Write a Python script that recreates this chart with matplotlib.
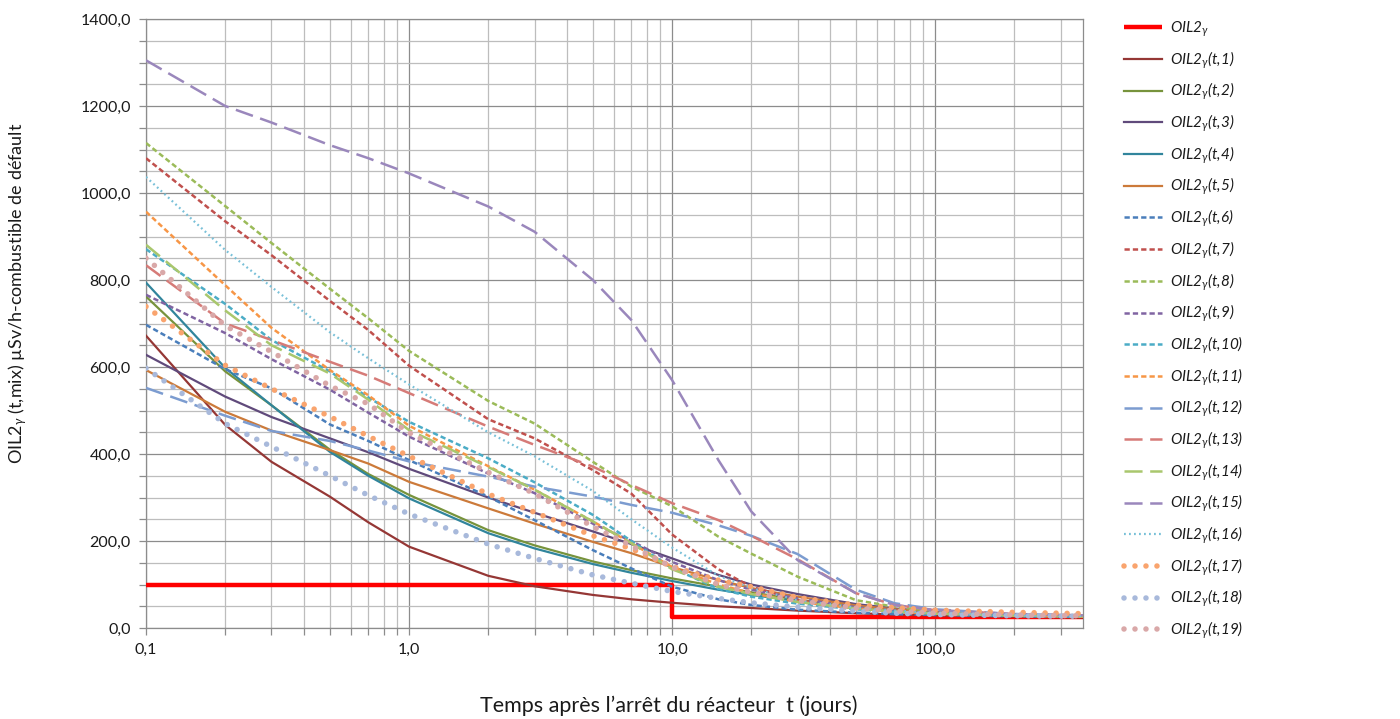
import matplotlib
matplotlib.use("Agg")
import matplotlib.pyplot as plt
from matplotlib.ticker import FixedLocator, FuncFormatter, NullFormatter

plt.rcParams['font.family'] = ['Lato', 'DejaVu Sans']
plt.rcParams['mathtext.fontset'] = 'custom'
plt.rcParams['mathtext.rm'] = 'Lato'
plt.rcParams['mathtext.it'] = 'Lato:italic'
plt.rcParams['mathtext.bf'] = 'Lato:bold'
plt.rcParams['mathtext.fallback'] = 'stixsans'
plt.rcParams['lines.scale_dashes'] = False

# ---------------- data ----------------
t_days = [0.1, 0.2, 0.3, 0.5, 0.7, 1, 2, 3, 5, 7, 10, 15, 20, 30, 50, 70, 100, 200, 365]

oil_t = [0.1, 10, 10, 365]
oil_v = [100, 100, 25, 25]

s1 = [672, 467, 382, 302, 243, 187, 120, 96, 76, 66, 58, 50, 46, 40, 34, 31, 29, 26, 24]
s2 = [762, 590, 512, 410, 354, 306, 225, 190, 153, 133, 114, 95, 82, 65, 48, 40, 34, 29, 27]
s3 = [628, 532, 485, 436, 404, 366, 300, 265, 222, 193, 160, 122, 100, 78, 55, 45, 37, 30, 27]
s4 = [794, 598, 512, 405, 350, 298, 218, 183, 147, 127, 108, 88, 76, 62, 46, 39, 33, 28, 26]
s5 = [593, 497, 454, 409, 378, 336, 275, 240, 198, 172, 140, 110, 92, 72, 52, 43, 36, 30, 27]
s6 = [697, 595, 551, 468, 430, 386, 302, 248, 179, 137, 95, 66, 53, 42, 35, 32, 30, 27, 26]
s7 = [1080, 935, 857, 752, 685, 603, 480, 436, 363, 309, 215, 135, 95, 64, 45, 38, 34, 29, 27]
s8 = [1115, 970, 885, 780, 712, 637, 522, 470, 382, 325, 280, 210, 171, 118, 64, 49, 38, 30, 28]
s9 = [766, 678, 618, 548, 495, 440, 355, 310, 240, 200, 152, 110, 88, 68, 48, 40, 34, 29, 27]
s10 = [871, 745, 662, 590, 530, 474, 390, 335, 260, 200, 138, 90, 72, 56, 43, 37, 33, 28, 26]
s11 = [957, 788, 690, 593, 535, 465, 372, 318, 245, 195, 140, 100, 80, 60, 45, 38, 33, 28, 26]
s12 = [552, 488, 453, 430, 408, 383, 348, 325, 302, 283, 265, 236, 212, 170, 88, 57, 43, 32, 29]
s13 = [834, 700, 662, 612, 580, 540, 463, 421, 371, 329, 287, 248, 212, 158, 80, 53, 41, 32, 29]
s14 = [881, 730, 650, 585, 525, 455, 370, 318, 245, 195, 135, 95, 78, 60, 45, 38, 33, 29, 27]
s15 = [1305, 1200, 1162, 1110, 1080, 1045, 969, 911, 800, 708, 570, 386, 268, 156, 80, 53, 41, 32, 29]
s16 = [1037, 869, 784, 680, 620, 560, 450, 395, 315, 250, 185, 120, 92, 64, 47, 40, 35, 29, 27]
s17 = [739, 604, 550, 486, 441, 395, 308, 266, 212, 182, 141, 110, 95, 70, 53, 47, 41, 36, 33]
s18 = [597, 470, 417, 350, 305, 262, 193, 160, 122, 103, 84, 68, 58, 48, 39, 34, 31, 28, 27]
s19 = [850, 695, 635, 557, 515, 449, 358, 309, 233, 189, 140, 100, 82, 63, 46, 39, 34, 30, 28]

series = [s1, s2, s3, s4, s5, s6, s7, s8, s9, s10, s11, s12, s13, s14, s15, s16, s17, s18, s19]

x_ticks = [0.1, 1, 10, 100]
x_ticklabels = ["0,1", "1,0", "10,0", "100,0"]

# ---------------- styles ----------------
colors = ['#953735', '#77933C', '#604A7B', '#31859C', '#CC7A3A',
          '#4A7EBB', '#C0504D', '#9BBB59', '#8064A2', '#4BACC6', '#F79646',
          '#7C9CD0', '#D67B78', '#A9C76D', '#9A87BC',
          '#78C0D8', '#F9A46E', '#A8B9DB', '#D9A8A8']
SOLID = dict(ls='-', lw=1.6)
SDASH = dict(ls=(0, (3.8, 2.2)), lw=1.8)
LDASH = dict(ls=(0, (13, 5.5)), lw=1.8)
SDOT = dict(ls=(0, (1.3, 2.3)), lw=1.6)
BDOT = dict(ls=(0, (0.01, 7.9)), lw=4.0, dash_capstyle='round')
styles = [SOLID] * 5 + [SDASH] * 6 + [LDASH] * 4 + [SDOT] + [BDOT] * 3

fig = plt.figure(figsize=(14, 7.19), dpi=100)
ax = fig.add_axes([146 / 1400, 1 - 628 / 719, (1083 - 146) / 1400, (628 - 19) / 719])

ax.set_xscale('log')
ax.set_xlim(0.1, 365)
ax.set_ylim(0, 1400)

# grid
ax.set_yticks(range(0, 1401, 200))
ax.yaxis.set_minor_locator(FixedLocator([v for v in range(0, 1401, 50) if v % 200]))
ax.xaxis.set_major_locator(FixedLocator(x_ticks))
minors = [m * d for d in (0.1, 1, 10, 100) for m in range(2, 10) if m * d <= 365]
ax.xaxis.set_minor_locator(FixedLocator(minors))
ax.xaxis.set_minor_formatter(NullFormatter())
ax.grid(which='major', color='#8c8c8c', lw=0.9)
ax.grid(which='minor', color='#bdbdbd', lw=0.9)
ax.set_axisbelow(True)
ax.xaxis.set_major_formatter(FuncFormatter(lambda v, p: x_ticklabels[x_ticks.index(v)] if v in x_ticks else ''))
ax.yaxis.set_major_formatter(FuncFormatter(lambda v, p: f"{v:.1f}".replace('.', ',')))
ax.tick_params(which='both', direction='out', color='#8c8c8c', length=5, width=0.9)
ax.tick_params(which='major', labelsize=11.5, labelcolor='#1a1a1a', pad=6)
for s in ax.spines.values():
    s.set_color('#8c8c8c')
    s.set_linewidth(0.9)

handles = []
labels = []
h, = ax.plot(oil_t, oil_v, color='#FF0000', lw=3.2, solid_capstyle='butt', zorder=3)
handles.append(h)
labels.append(r"OIL2$_{\gamma}$")
for i, (vals, c, st) in enumerate(zip(series, colors, styles)):
    h, = ax.plot(t_days, vals, color=c, zorder=4 + i, **st)
    handles.append(h)
    labels.append(r"OIL2$_{\gamma}$(t,%d)" % (i + 1))

leg = fig.legend(handles, labels, loc='upper left', bbox_to_anchor=(1110 / 1400, 1 - 6 / 719),
                 frameon=False, prop={'size': 11, 'style': 'italic'},
                 handlelength=2.5, handletextpad=0.5, labelspacing=0.68)
for txt in leg.get_texts():
    txt.set_color('#1a1a1a')

fig.text(669 / 1400, 1 - 706 / 719, "Temps après l’arrêt du réacteur  t (jours)",
         ha='center', va='center', fontsize=15.5, color='#1a1a1a')
fig.text(18 / 1400, 1 - 293 / 719, r"OIL2$_\gamma$ (t,mix) µSv/h-combustible de défault",
         ha='center', va='center', rotation=90, fontsize=13, color='#1a1a1a')

fig.savefig('out.png', dpi=100)
